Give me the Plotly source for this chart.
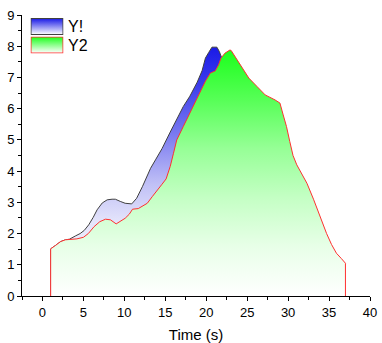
import base64
import plotly.graph_objects as go

# ---- data ----
y2_x = [1, 1, 1.6, 2.2, 2.8, 3.4, 4.2, 5.0, 5.6, 6.3, 7.0, 7.7, 8.3, 9.0, 9.5, 10.1, 10.6, 11.0,
        11.7, 12.3, 12.8, 13.4, 14.0, 14.6, 15.1, 15.6, 16.0, 16.4, 17.2, 17.8, 18.45, 19.2, 19.9,
        20.5, 21.1, 21.5, 21.8, 22.3, 22.9, 23.05, 23.7, 24.5, 25.2, 26.2, 27.2, 28.4, 29.0, 29.4,
        29.8, 30.2, 30.6, 31.06, 31.9, 32.3, 33.1, 33.9, 34.7, 35.3, 35.9, 36.5, 36.95, 37, 37]
y2_y = [0, 1.51, 1.62, 1.74, 1.80, 1.81, 1.83, 1.88, 2.00, 2.22, 2.38, 2.46, 2.44, 2.31, 2.38, 2.49,
        2.62, 2.78, 2.80, 2.88, 2.97, 3.18, 3.40, 3.58, 3.75, 4.15, 4.57, 5.00, 5.43, 5.75, 6.07,
        6.50, 6.88, 7.14, 7.21, 7.40, 7.62, 7.78, 7.88, 7.86, 7.60, 7.30, 6.98, 6.71, 6.44, 6.28,
        6.18, 5.80, 5.43, 4.95, 4.50, 4.20, 3.80, 3.61, 3.10, 2.54, 2.00, 1.65, 1.37, 1.20, 1.05, 1.05, 0]

y1_x = [1, 1, 1.6, 2.2, 2.8, 3.3, 4.0, 4.6, 5.1, 5.65, 6.2, 6.67, 7.3, 7.9, 8.5, 8.9, 9.5, 10.1,
        10.9, 11.5, 12.2, 12.8, 13.2, 13.8, 14.6, 15.6, 16.4, 17.2, 18.0, 18.9, 19.5, 19.9, 20.3,
        20.7, 21.3, 21.6, 21.9, 22.2, 23.0, 25.0, 28.0, 30.0, 33.0, 36.0, 36.0]
y1_y = [0, 1.51, 1.62, 1.74, 1.80, 1.82, 1.92, 2.00, 2.10, 2.28, 2.52, 2.76, 2.98, 3.08, 3.10, 3.10,
        3.03, 2.97, 2.95, 3.13, 3.50, 3.88, 4.09, 4.36, 4.72, 5.25, 5.68, 6.07, 6.40, 6.85, 7.22,
        7.62, 7.80, 7.97, 7.97, 7.83, 7.62, 7.30, 7.00, 6.40, 5.80, 4.00, 2.00, 1.00, 0]

series_names = ["Y!", "Y2"]
x_ticks = [0, 5, 10, 15, 20, 25, 30, 35, 40]
y_ticks = [0, 1, 2, 3, 4, 5, 6, 7, 8, 9]

blue_scale = [[0, "#ffffff"], [0.3, "#e4e4fb"], [0.45, "#c0c0f6"], [0.65, "#7a7af0"],
              [0.85, "#3c3cec"], [1, "#1a1ae6"]]
green_scale = [[0, "#ffffff"], [0.2, "#e8ffe8"], [0.4, "#c4ffc4"], [0.6, "#96ff96"],
               [0.8, "#56ff56"], [1, "#1cff1c"]]

fig = go.Figure()
fig.add_trace(go.Scatter(
    x=y1_x, y=y1_y, mode="lines", name=series_names[0], fill="tozeroy",
    fillgradient=dict(type="vertical", colorscale=blue_scale, start=0, stop=max(y1_y)),
    line=dict(color="#404040", width=1), showlegend=False, hoverinfo="skip"))
fig.add_trace(go.Scatter(
    x=y2_x, y=y2_y, mode="lines", name=series_names[1], fill="tozeroy",
    fillgradient=dict(type="vertical", colorscale=green_scale, start=0, stop=max(y2_y)),
    line=dict(color="#ff3030", width=1), showlegend=False, hoverinfo="skip"))


def grad_box(top, border):
    svg = ("<svg xmlns='http://www.w3.org/2000/svg' width='33' height='17' viewBox='0 0 33 17'>"
           "<defs><linearGradient id='g' x1='0' y1='0' x2='0' y2='1'>"
           f"<stop offset='0' stop-color='{top}'/><stop offset='1' stop-color='#ffffff'/>"
           "</linearGradient></defs>"
           f"<rect x='0.5' y='0.5' width='32' height='16' fill='url(#g)' stroke='{border}' stroke-width='1'/>"
           "</svg>")
    return "data:image/svg+xml;base64," + base64.b64encode(svg.encode()).decode()


W_PLOT = 348.0
H_PLOT = 281.0
legend_items = [(series_names[0], "#1a1ae6", "#404040", 18.0),
                (series_names[1], "#1cff1c", "#ff3030", 36.5)]
for name, top, border, py in legend_items:
    fig.add_layout_image(dict(
        source=grad_box(top, border), xref="paper", yref="paper",
        x=(30.5 - 22) / W_PLOT, y=(296 - py) / H_PLOT,
        sizex=33 / W_PLOT, sizey=17 / H_PLOT, sizing="stretch",
        xanchor="left", yanchor="top", layer="above"))
    fig.add_annotation(text=name, xref="paper", yref="paper",
                       x=(65.5 - 22) / W_PLOT, y=(296 - py - 8.5) / H_PLOT,
                       xanchor="left", yanchor="middle", showarrow=False,
                       font=dict(family="Liberation Sans, Arial", size=16, color="#000000"))

fig.update_layout(
    width=382, height=343,
    margin=dict(l=22, r=12, t=15, b=47, autoexpand=False),
    paper_bgcolor="white", plot_bgcolor="white",
    font=dict(family="Liberation Sans, Arial", size=12, color="#000000"),
    showlegend=False,
)
fig.update_xaxes(
    range=[-2.5, 40], tickmode="array", tickvals=x_ticks, automargin=False,
    ticks="outside", ticklen=4, tickcolor="black", showline=True, linecolor="black", linewidth=1,
    showgrid=False, zeroline=False,
    minor=dict(tickmode="linear", tick0=-2.5, dtick=2.5, ticks="outside", ticklen=3, tickcolor="black"),
    title=dict(text="Time (s)", font=dict(size=15), standoff=10),
    tickfont=dict(size=13),
)
fig.update_yaxes(
    range=[0, 9], tickmode="array", tickvals=y_ticks, automargin=False,
    ticks="outside", ticklen=4, tickcolor="black", showline=True, linecolor="black", linewidth=1,
    showgrid=False, zeroline=False,
    minor=dict(tickmode="linear", tick0=0, dtick=0.5, ticks="outside", ticklen=3, tickcolor="black"),
    tickfont=dict(size=13),
)

fig.write_html("out.html")
